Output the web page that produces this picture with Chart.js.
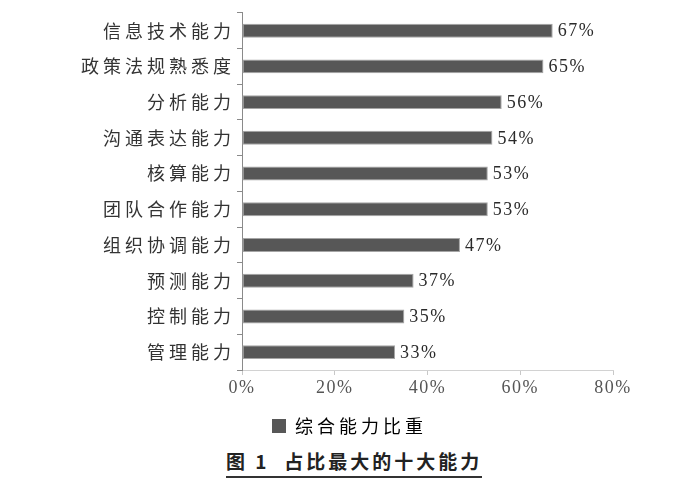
<!DOCTYPE html>
<html>
<head>
<meta charset="utf-8">
<script src="https://cdn.jsdelivr.net/npm/chart.js@4/dist/chart.umd.min.js"></script>
<style>
body { margin: 0; background: #fff; }
#wrap { position: absolute; left: 0; top: 0; width: 675px; height: 445px; }
#caption {
    position: absolute; left: 226px; top: 447px;
    font-family: "Noto Sans CJK SC", sans-serif; font-weight: bold;
    font-size: 19px; letter-spacing: 3px; color: #222;
    border-bottom: 2px solid #333; padding-bottom: 2px; white-space: pre;
}
</style>
</head>
<body>
<div id="wrap"><canvas id="chart" width="675" height="445"></canvas></div>
<div id="caption">图 1  占比最大的十大能力</div>
<script>
// 能力名称（从上到下）
const abilities = ['信息技术能力', '政策法规熟悉度', '分析能力', '沟通表达能力', '核算能力', '团队合作能力', '组织协调能力', '预测能力', '控制能力', '管理能力'];
// 综合能力比重 (%)
const shares = [67, 65, 56, 54, 53, 53, 47, 37, 35, 33];
const seriesName = '综合能力比重';
const xTicks = [0, 20, 40, 60, 80];

const cjk = '"Noto Sans CJK SC", sans-serif';
const serif = '"Liberation Serif", "DejaVu Serif", serif';

// the scan is stretched sideways: chinese text gets wide spacing,
// numbers only a little. y labels + legend are drawn first, the x tick
// labels (z: 1) after the bars with the narrow spacing
const spacing = {
    id: 'spacing',
    beforeDraw(chart) { chart.ctx.letterSpacing = '4px'; },
    afterDatasetsDraw(chart) {
        const ctx = chart.ctx;
        const meta = chart.getDatasetMeta(0);
        ctx.save();
        ctx.letterSpacing = '1.5px';
        ctx.font = '18px ' + serif;
        ctx.fillStyle = '#2a2a2a';
        ctx.textAlign = 'left';
        ctx.textBaseline = 'middle';
        meta.data.forEach(function(bar, i) {
            ctx.fillText(shares[i] + '%', bar.x + 5, bar.y + 1);
        });
        ctx.restore();
        ctx.letterSpacing = '1.5px';
    }
};

const ctx = document.getElementById('chart').getContext('2d');
const chart = new Chart(ctx, {
    type: 'bar',
    data: {
        labels: abilities,
        datasets: [{
            label: seriesName,
            data: shares,
            backgroundColor: '#575757',
            borderColor: '#a5a5a5',
            borderWidth: 1,
            borderSkipped: false,
            categoryPercentage: 1,
            barPercentage: 0.39
        }]
    },
    options: {
        indexAxis: 'y',
        responsive: false,
        animation: false,
        // equal side padding keeps the legend centred where the original has it
        layout: { padding: { top: 5, right: 62, left: 62, bottom: 0 } },
        scales: {
            x: {
                min: 0,
                max: 80,
                afterBuildTicks(scale) { scale.ticks = xTicks.map(v => ({ value: v })); },
                afterFit(scale) { scale.height = 39; },
                border: { color: '#d2d2d2', width: 1 },
                grid: { drawOnChartArea: false, tickLength: 5, color: '#c8c8c8' },
                ticks: {
                    z: 1,
                    padding: 2,
                    maxRotation: 0,
                    color: '#555',
                    font: { family: serif, size: 18 },
                    callback: v => v + '%'
                }
            },
            y: {
                afterFit(scale) { scale.width = 180; },
                border: { color: '#8a8a8a', width: 1 },
                grid: { drawOnChartArea: false, offset: true, tickLength: 5, color: '#8a8a8a' },
                ticks: {
                    padding: 2,
                    color: '#333',
                    font: { family: cjk, size: 18 }
                }
            }
        },
        plugins: {
            legend: {
                position: 'bottom',
                labels: {
                    boxWidth: 14,
                    boxHeight: 14,
                    padding: 8,
                    color: '#333',
                    font: { family: cjk, size: 18 },
                    generateLabels(c) {
                        return [{ text: seriesName, fillStyle: '#575757', strokeStyle: '#575757', lineWidth: 0, datasetIndex: 0 }];
                    }
                }
            },
            tooltip: { enabled: false }
        }
    },
    plugins: [spacing]
});
</script>
</body>
</html>
